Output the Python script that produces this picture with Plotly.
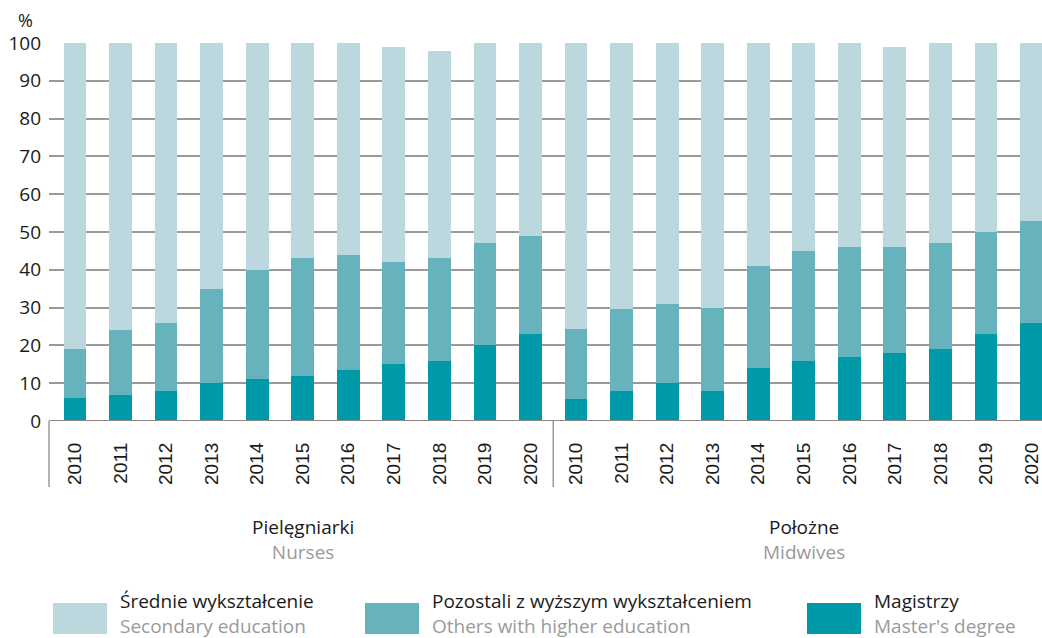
import plotly.graph_objects as go

years = ["2010", "2011", "2012", "2013", "2014", "2015", "2016", "2017", "2018", "2019", "2020"]
groups_pl = ["Pielęgniarki", "Położne"]
groups_en = ["Nurses", "Midwives"]

nurses_master = [6, 7, 8, 10, 11, 12, 13.5, 15, 16, 20, 23]
nurses_others = [13, 17, 18, 25, 29, 31, 30.5, 27, 27, 27, 26]
nurses_secondary = [81, 76, 74, 65, 60, 57, 56, 57, 55, 53, 51]

midwives_master = [5.8, 8, 10, 8, 14, 16, 17, 18, 19, 23, 26]
midwives_others = [18.5, 21.5, 21, 22, 27, 29, 29, 28, 28, 27, 27]
midwives_secondary = [75.7, 70.5, 69, 70, 59, 55, 54, 53, 53, 50, 47]

series_pl = ["Średnie wykształcenie", "Pozostali z wyższym wykształceniem", "Magistrzy"]
series_en = ["Secondary education", "Others with higher education", "Master's degree"]
colors = ["#BAD8DE", "#66B3BD", "#0099A8"]

FONT = "Open Sans"
DARK = "#1a1a1a"
GREY = "#9a9a9a"
LIGHT_TXT = "#9a9a9a"

n = len(years)
x_idx = list(range(2 * n))
ticktext = years + years

master = nurses_master + midwives_master
others = nurses_others + midwives_others
secondary = nurses_secondary + midwives_secondary

fig = go.Figure()
for vals, name, col in [(master, series_pl[2], colors[2]),
                        (others, series_pl[1], colors[1]),
                        (secondary, series_pl[0], colors[0])]:
    fig.add_trace(go.Bar(x=x_idx, y=vals, name=name, marker=dict(color=col, line=dict(width=0)),
                         showlegend=False, hoverinfo="skip"))

W, H = 1042, 638
ml, mr, mt = 49, 0, 43
bottom = 421
mb = H - bottom
pw, ph = W - ml - mr, H - mt - mb

def px_x(p):
    return (p - ml) / pw

def px_y(p):
    return (bottom - p) / ph

fig.update_layout(
    width=W, height=H,
    margin=dict(l=ml, r=mr, t=mt, b=mb),
    barmode="stack", bargap=0.5,
    plot_bgcolor="white", paper_bgcolor="white",
    font=dict(family=FONT, color=DARK, size=19),
    xaxis=dict(
        range=[-0.571, 21.23],
        tickmode="array", tickvals=x_idx, ticktext=ticktext,
        tickangle=-90, showgrid=False, zeroline=False,
        showline=False, ticks="", ticklabelstandoff=17,
        ticklabeloverflow="allow",
        tickfont=dict(size=19, color=DARK, family="Liberation Sans"),
    ),
    yaxis=dict(
        range=[0, 100], tickmode="array", tickvals=list(range(0, 101, 10)),
        showgrid=True, gridcolor=GREY, gridwidth=1.5,
        zeroline=False, showline=False, ticks="", ticklabelstandoff=7,
        tickfont=dict(size=19, color=DARK, family=FONT),
    ),
)

# baseline
fig.add_shape(type="line", xref="paper", yref="y", x0=0, x1=1, y0=0, y1=0,
              line=dict(color="#8a8a8a", width=2), layer="above")
# category dividers
div_bottom = px_y(487)
fig.add_shape(type="line", xref="paper", yref="paper", x0=0, x1=0, y0=0, y1=div_bottom,
              line=dict(color="#9a9a9a", width=1.5))
fig.add_shape(type="line", xref="x", yref="paper", x0=n - 0.5, x1=n - 0.5, y0=0, y1=div_bottom,
              line=dict(color="#9a9a9a", width=1.5))

# group labels (two lines: Polish + English)
for gi in range(2):
    cx = gi * n + (n - 1) / 2
    fig.add_annotation(x=cx, xref="x", y=px_y(539), yref="paper",
                       text=f"{groups_pl[gi]}<br><span style='color:{LIGHT_TXT}'>{groups_en[gi]}</span>",
                       showarrow=False, font=dict(size=19, color=DARK), yanchor="middle",
                       align="center")

# % label
fig.add_annotation(x=px_x(25), xref="paper", y=px_y(20), yref="paper", text="%",
                   showarrow=False, font=dict(size=18, color=DARK), xanchor="center", yanchor="middle")

# custom legend
leg_x = [53, 365, 807]
for i in range(3):
    x0 = leg_x[i]
    fig.add_shape(type="rect", xref="paper", yref="paper",
                  x0=px_x(x0), x1=px_x(x0 + 54), y0=px_y(603), y1=px_y(634),
                  line=dict(width=0), fillcolor=colors[i])
    fig.add_annotation(x=px_x(x0 + 66), xref="paper", y=px_y(613), yref="paper",
                       text=f"{series_pl[i]}<br><span style='color:{LIGHT_TXT}'>{series_en[i]}</span>",
                       showarrow=False, xanchor="left", yanchor="middle", align="left",
                       borderpad=0, font=dict(size=19, color=DARK))

fig.write_html("out.html",
               config={"displayModeBar": False},
               post_script="document.body.style.margin='0';document.body.style.overflow='hidden';")
